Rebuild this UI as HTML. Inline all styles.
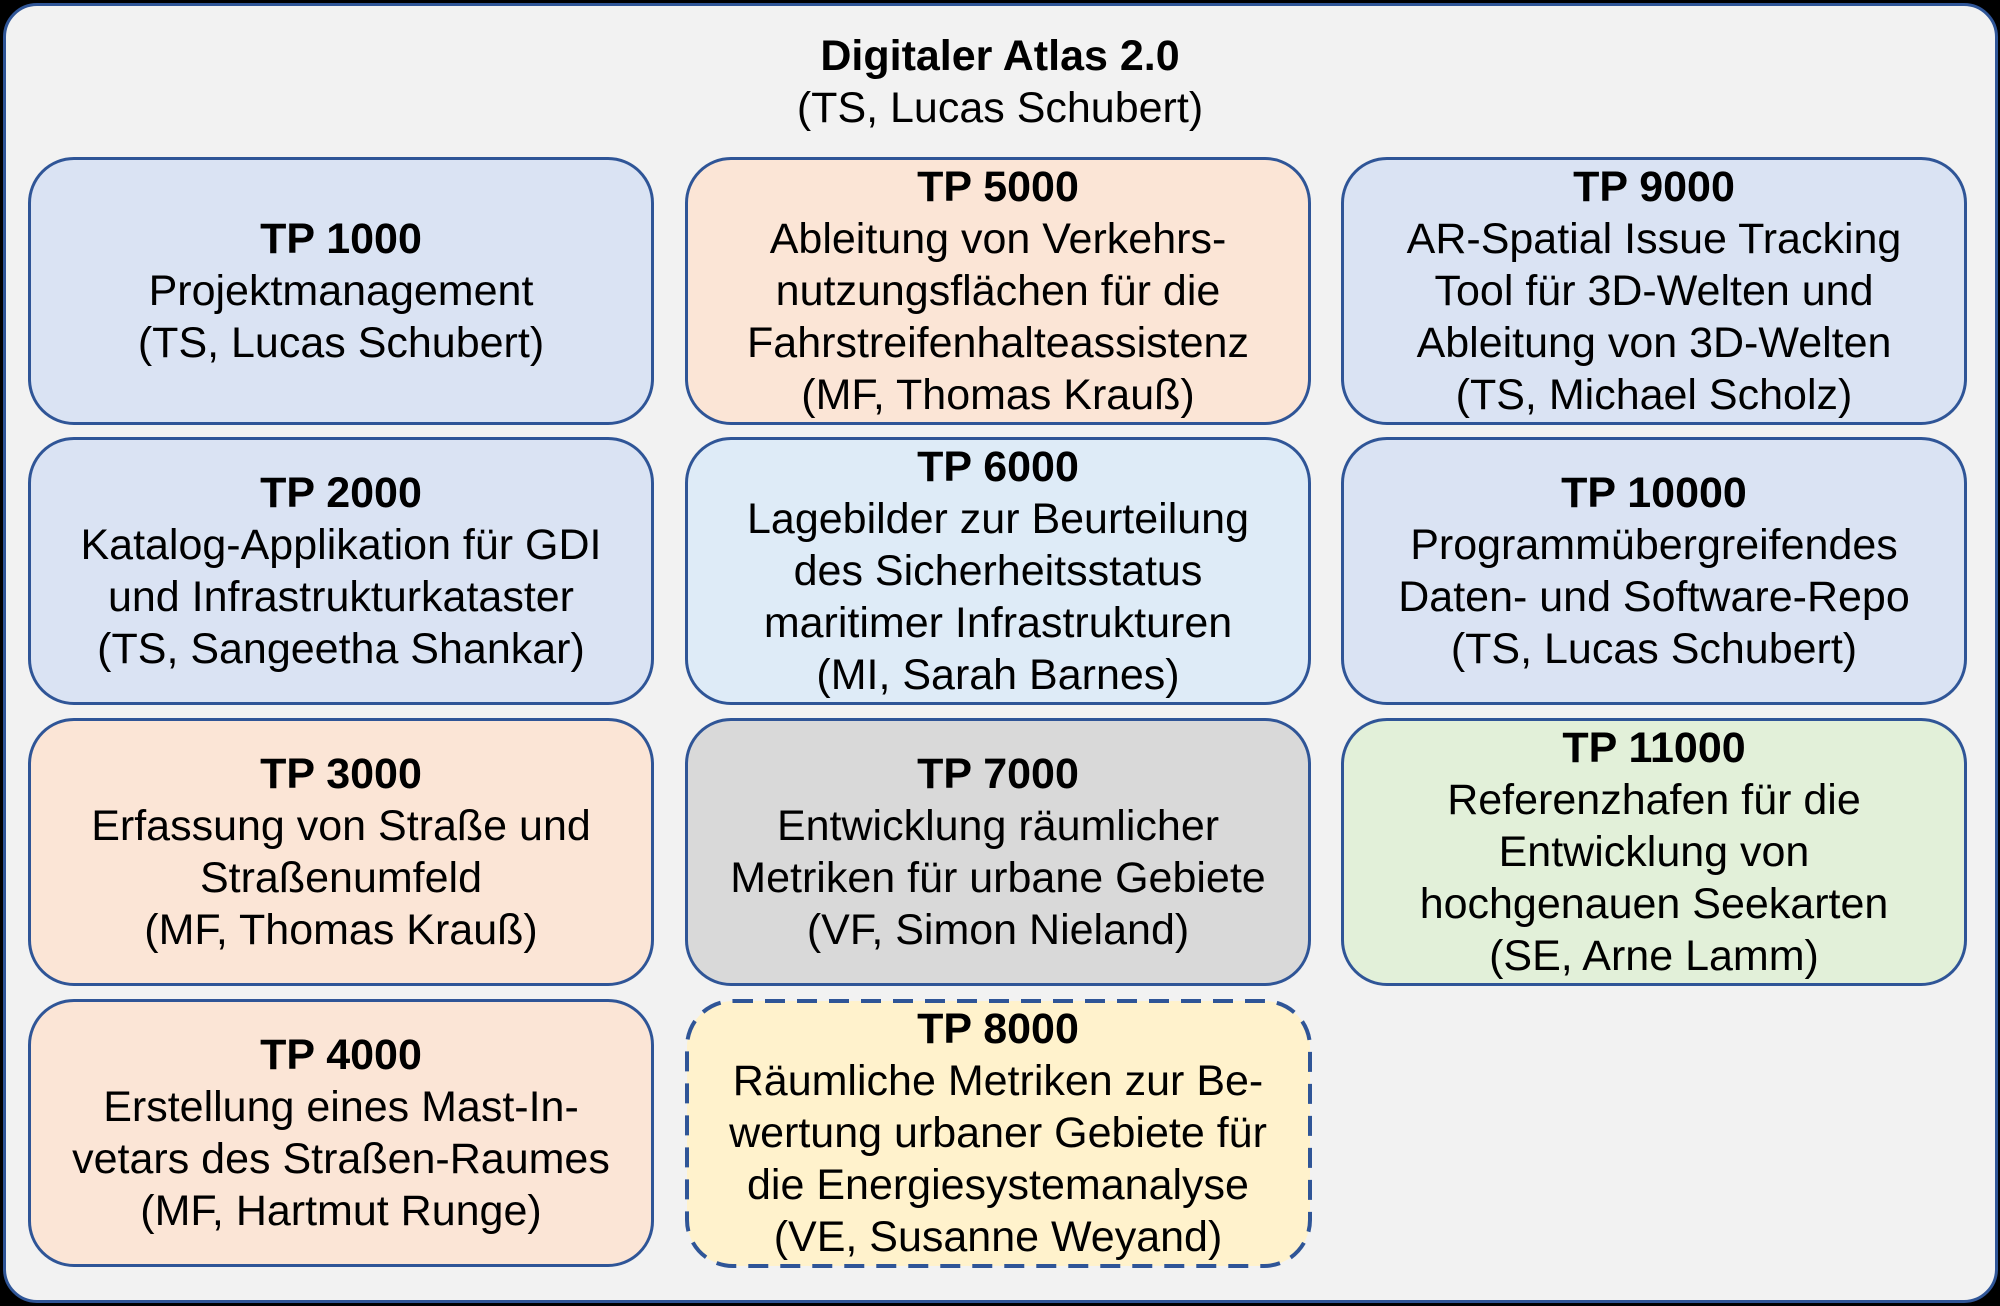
<!DOCTYPE html>
<html><head><meta charset="utf-8"><style>
html,body{margin:0;padding:0;background:#000;}
body{width:2000px;height:1306px;position:relative;overflow:hidden;font-family:"Liberation Sans",Arial,sans-serif;}
.frame{position:absolute;left:3px;top:3px;width:1989px;height:1294px;background:#f2f2f2;border:3px solid #2f5597;border-radius:34px;}
.title{position:absolute;left:0;width:2000px;top:30px;text-align:center;font-size:43px;line-height:52px;color:#000;}
.box{position:absolute;width:620px;height:262px;border:3.5px solid #2f5597;border-radius:46px;display:flex;align-items:center;justify-content:center;text-align:center;font-size:43px;line-height:52px;color:#000;}
.b{font-weight:bold;}
.c1{left:28px}.c2{left:685px}.c3{left:1341px}
.r1{top:157px}.r2{top:437px}.r3{top:718px}.r4{top:999px}
.blue{background:#dae3f3}.or{background:#fbe5d6}.lb{background:#deebf7}.gr{background:#d9d9d9}.gn{background:#e2f0d9}.ye{background:transparent;border-color:transparent}
.txt{position:relative;}
</style></head><body>
<div class="frame"></div>
<div class="title"><span class="b">Digitaler Atlas 2.0</span><br>(TS, Lucas Schubert)</div>

<div class="box c1 r1 blue"><div><span class="b">TP 1000</span><br>Projektmanagement<br>(TS, Lucas Schubert)</div></div>
<div class="box c1 r2 blue"><div><span class="b">TP 2000</span><br>Katalog-Applikation für GDI<br>und Infrastrukturkataster<br>(TS, Sangeetha Shankar)</div></div>
<div class="box c1 r3 or"><div><span class="b">TP 3000</span><br>Erfassung von Straße und<br>Straßenumfeld<br>(MF, Thomas Krauß)</div></div>
<div class="box c1 r4 or"><div><span class="b">TP 4000</span><br>Erstellung eines Mast-In-<br>vetars des Straßen-Raumes<br>(MF, Hartmut Runge)</div></div>

<div class="box c2 r1 or"><div><span class="b">TP 5000</span><br>Ableitung von Verkehrs-<br>nutzungsflächen für die<br>Fahrstreifenhalteassistenz<br>(MF, Thomas Krauß)</div></div>
<div class="box c2 r2 lb"><div><span class="b">TP 6000</span><br>Lagebilder zur Beurteilung<br>des Sicherheitsstatus<br>maritimer Infrastrukturen<br>(MI, Sarah Barnes)</div></div>
<div class="box c2 r3 gr"><div><span class="b">TP 7000</span><br>Entwicklung räumlicher<br>Metriken für urbane Gebiete<br>(VF, Simon Nieland)</div></div>
<svg style="position:absolute;left:685px;top:999px" width="627" height="269"><rect x="2" y="2" width="623" height="265" rx="46" ry="46" fill="#fff2cc" stroke="#2f5597" stroke-width="4" stroke-dasharray="20 12"/></svg>
<div class="box c2 r4 ye"><div><span class="b">TP 8000</span><br>Räumliche Metriken zur Be-<br>wertung urbaner Gebiete für<br>die Energiesystemanalyse<br>(VE, Susanne Weyand)</div></div>

<div class="box c3 r1 blue"><div><span class="b">TP 9000</span><br>AR-Spatial Issue Tracking<br>Tool für 3D-Welten und<br>Ableitung von 3D-Welten<br>(TS, Michael Scholz)</div></div>
<div class="box c3 r2 blue"><div><span class="b">TP 10000</span><br>Programmübergreifendes<br>Daten- und Software-Repo<br>(TS, Lucas Schubert)</div></div>
<div class="box c3 r3 gn"><div><span class="b">TP 11000</span><br>Referenzhafen für die<br>Entwicklung von<br>hochgenauen Seekarten<br>(SE, Arne Lamm)</div></div>
</body></html>
